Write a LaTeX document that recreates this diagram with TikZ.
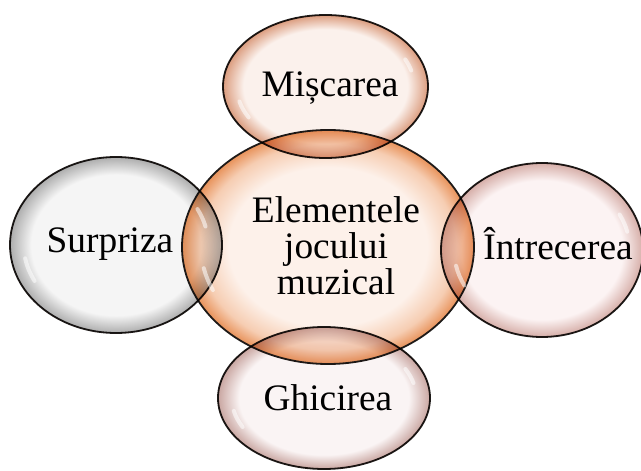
\documentclass[tikz,border=0pt]{standalone}
\usepackage{fontspec}
\setmainfont{Liberation Serif}
\usetikzlibrary{shapes.geometric}
\definecolor{cInO}{HTML}{FDF1EA}
\definecolor{cMidO}{HTML}{F6CDB2}
\definecolor{cOutO}{HTML}{E8925A}
\definecolor{cInT}{HTML}{FBF1EC}
\definecolor{cOutT}{HTML}{DB9C7E}
\definecolor{cInG}{HTML}{F5F5F5}
\definecolor{cOutG}{HTML}{ADADAD}
\definecolor{cInR}{HTML}{FCF3F3}
\definecolor{cOutR}{HTML}{D6AEA8}
\definecolor{cInB}{HTML}{FAF4F4}
\definecolor{cOutB}{HTML}{C9A6A1}
\definecolor{edge}{HTML}{1E1A18}
\pgfdeclareradialshading{bubO}{\pgfpoint{0bp}{0bp}}{color(0bp)=(cInO); color(17bp)=(cInO); color(22bp)=(cMidO); color(25bp)=(cOutO); color(50bp)=(cOutO)}
\pgfdeclareradialshading{bubT}{\pgfpoint{0bp}{0bp}}{color(0bp)=(cInT); color(20bp)=(cInT); color(25bp)=(cOutT); color(50bp)=(cOutT)}
\pgfdeclareradialshading{bubG}{\pgfpoint{0bp}{0bp}}{color(0bp)=(cInG); color(20bp)=(cInG); color(25bp)=(cOutG); color(50bp)=(cOutG)}
\pgfdeclareradialshading{bubR}{\pgfpoint{0bp}{0bp}}{color(0bp)=(cInR); color(20bp)=(cInR); color(25bp)=(cOutR); color(50bp)=(cOutR)}
\pgfdeclareradialshading{bubB}{\pgfpoint{0bp}{0bp}}{color(0bp)=(cInB); color(20bp)=(cInB); color(25bp)=(cOutB); color(50bp)=(cOutB)}
\tikzset{
  bubble/.style={ellipse, draw=edge, line width=1.8bp, inner sep=0pt, outer sep=0pt},
  outerbub/.style={bubble},
  lbl/.style={font=\fontsize{37.5}{36}\selectfont, text=black, inner sep=0pt},
  gloss/.style={white, line width=4bp, line cap=round, opacity=0.55}
}
\newcommand{\glint}[5]{% center, rx, ry, start, end
  \draw[gloss, shift={(#1)}] (#4:{0.87*#2} and {0.87*#3}) arc[start angle=#4, end angle=#5, x radius={0.87*#2}, y radius={0.87*#3}];}
\begin{document}
\begin{tikzpicture}[x=1bp,y=-1bp]
\useasboundingbox (0,0) rectangle (641,471);
\node[bubble, shade, shading=bubO, minimum width=292bp, minimum height=234bp] (ctr) at (328,247) {};
\begin{scope}[blend mode=multiply]
\node[outerbub, shade, shading=bubT, minimum width=205bp, minimum height=143bp] (top) at (325.5,86.5) {};
\node[outerbub, shade, shading=bubG, minimum width=212bp, minimum height=176bp] (lft) at (116,245) {};
\node[outerbub, shade, shading=bubR, minimum width=202bp, minimum height=174bp] (rgt) at (542,250) {};
\node[outerbub, shade, shading=bubB, minimum width=212bp, minimum height=142bp] (bot) at (324,398) {};
\end{scope}
\glint{ctr.center}{146}{117}{155}{168}
\glint{top.center}{102}{71}{150}{166}
\glint{top.center}{102}{71}{-15}{-26}
\glint{lft.center}{106}{88}{152}{170}
\glint{lft.center}{106}{88}{-14}{-28}
\glint{rgt.center}{101}{87}{152}{168}
\glint{rgt.center}{101}{87}{-14}{-28}
\glint{bot.center}{106}{71}{152}{168}
\glint{bot.center}{106}{71}{-14}{-28}
\node[lbl, align=center] (tctr) at (336,246) {Elementele\\jocului\\muzical};
\node[lbl, anchor=base] (ttop) at (330,97) {Mișcarea};
\node[lbl, anchor=base] (tlft) at (110,253) {Surpriza};
\node[lbl, anchor=base] (trgt) at (558,260) {Întrecerea};
\node[lbl, anchor=base] (tbot) at (328,410) {Ghicirea};
\end{tikzpicture}
\end{document}
